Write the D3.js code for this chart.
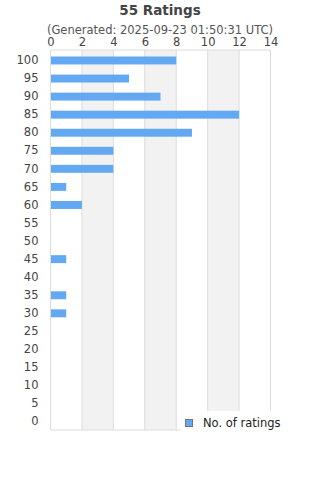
<!DOCTYPE html>
<html>
<head>
<meta charset="utf-8">
<script src="https://cdn.jsdelivr.net/npm/d3@7"></script>
<style>
  body { margin: 0; background: #fff; }
  text { font-family: "DejaVu Sans", sans-serif; }
</style>
</head>
<body>
<div id="chart"></div>
<script>
// rating buckets (top to bottom) and how many ratings fell in each
var ratings = ["100","95","90","85","80","75","70","65","60","55","50","45","40","35","30","25","20","15","10","5","0"];
var counts  = [8, 5, 7, 12, 9, 4, 4, 1, 2, 0, 0, 1, 0, 1, 1, 0, 0, 0, 0, 0, 0];
var xTicks  = [0, 2, 4, 6, 8, 10, 12, 14];

var w = 320, h = 480;
var margin = {top: 50, right: 49.5, bottom: 50, left: 50.5};

var svg = d3.select("#chart").append("svg")
  .attr("width", w).attr("height", h);

var g = svg.append("g")
  .attr("transform", "translate(" + margin.left + "," + margin.top + ")");

var iw = w - margin.left - margin.right;
var ih = h - margin.top - margin.bottom;

var x = d3.scaleLinear().domain([0, 14]).range([0, iw]);
var y = d3.scaleBand().domain(ratings).range([0, ih])
  .paddingInner(0.56).paddingOuter(0.3).align(0.6);

// alternating bands
for (var i = 0; i < xTicks.length - 1; i++) {
  if (i % 2 == 1) {
    g.append("rect")
      .attr("x", x(xTicks[i])).attr("y", 0)
      .attr("width", x(xTicks[i + 1]) - x(xTicks[i]))
      .attr("height", ih)
      .attr("fill", "#f2f2f2");
  }
}

// grid lines
g.selectAll("line.grid")
  .data(xTicks)
  .enter().append("line")
  .attr("class", "grid")
  .attr("x1", function(d) { return x(d); })
  .attr("x2", function(d) { return x(d); })
  .attr("y1", 0).attr("y2", ih)
  .attr("stroke", "#dcdcdc").attr("stroke-width", 1);

g.append("line")
  .attr("x1", 0).attr("x2", iw).attr("y1", 0).attr("y2", 0)
  .attr("stroke", "#dcdcdc");
g.append("line")
  .attr("x1", 0).attr("x2", iw).attr("y1", ih).attr("y2", ih)
  .attr("stroke", "#dcdcdc");

// bars
g.selectAll("rect.bar")
  .data(counts)
  .enter().append("rect")
  .attr("class", "bar")
  .attr("x", x(0) + 0.5)
  .attr("y", function(d, i) { return y(ratings[i]); })
  .attr("width", function(d) { return Math.max(0, x(d) - x(0) - 0.5); })
  .attr("height", y.bandwidth())
  .attr("fill", "#62a8f2");

// x axis on top
var xAxis = g.append("g")
  .call(d3.axisTop(x).tickValues(xTicks).tickSize(0).tickPadding(4));
xAxis.select(".domain").remove();
xAxis.selectAll("text")
  .style("font-size", "11.5px").attr("fill", "#444")
  .style("font-family", "DejaVu Sans, sans-serif");

// y axis
var yAxis = g.append("g")
  .call(d3.axisLeft(y).tickSize(0).tickPadding(12));
yAxis.select(".domain").remove();
yAxis.selectAll("text")
  .style("font-size", "11.5px").attr("fill", "#444")
  .style("font-family", "DejaVu Sans, sans-serif");

// title
svg.append("text")
  .attr("x", 160).attr("y", 15)
  .attr("text-anchor", "middle")
  .attr("font-size", 13.5).attr("font-weight", "bold")
  .attr("fill", "#444")
  .text("55 Ratings");

svg.append("text")
  .attr("x", 160).attr("y", 34)
  .attr("text-anchor", "middle")
  .attr("font-size", 11.5)
  .attr("fill", "#555")
  .text("(Generated: 2025-09-23 01:50:31 UTC)");

// legend
var lg = svg.append("g");
lg.append("rect")
  .attr("x", 181).attr("y", 411).attr("width", 110).attr("height", 28)
  .attr("fill", "#fff");
lg.append("rect")
  .attr("x", 185.5).attr("y", 419.5).attr("width", 7).attr("height", 7)
  .attr("fill", "#62a8f2").attr("stroke", "#777").attr("stroke-width", 1);
lg.append("text")
  .attr("x", 203).attr("y", 427)
  .attr("font-size", 11.5).attr("fill", "#222")
  .text("No. of ratings");
</script>
</body>
</html>
